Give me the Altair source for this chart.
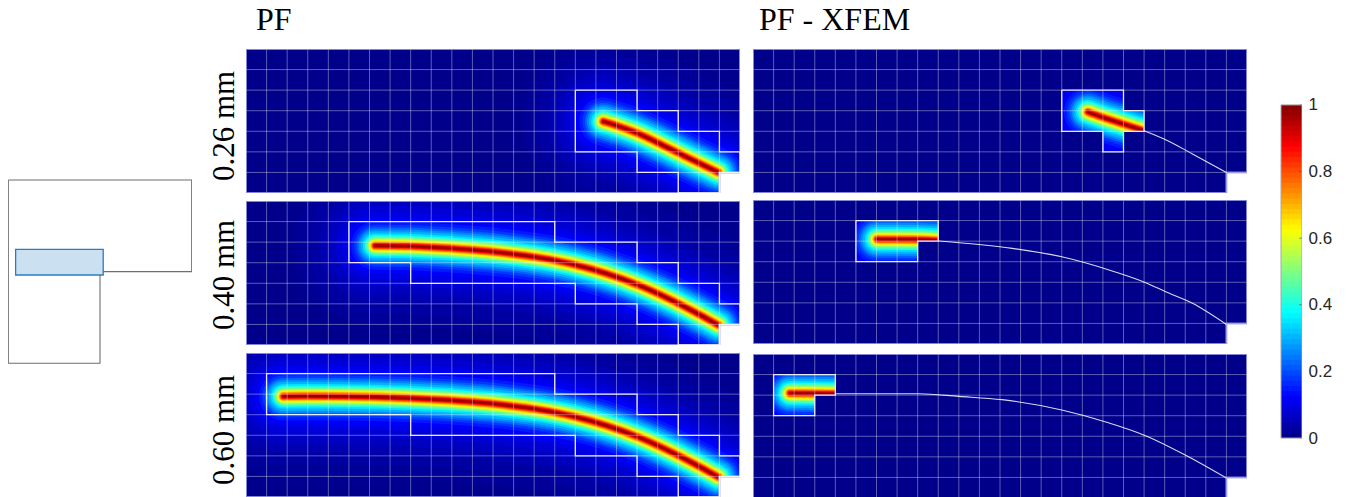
import altair as alt
import pandas as pd

NAVY = "#00008a"
SERIF = "Liberation Serif"
SANS = "Liberation Sans"

# Cell-unit coordinates (column, row); mesh is 24 x 7 cells
COLS = list(range(25))
ROWS = list(range(8))
NOTCH = [23, 24, 6, 7]
DOMAIN_X = [0, 24, 24, 23, 23, 0, 0]
DOMAIN_Y = [0, 0, 6, 6, 7, 7, 0]

# Crack paths
P1_X = [17.36, 18.0, 18.98, 20.1, 21.4, 22.95]
P1_Y = [3.52, 3.72, 4.08, 4.6, 5.25, 6.0]
P3_X = [6.27, 7.81, 9.43, 11.04, 12.66, 14.28, 15.9, 17.52, 19.14, 20.76, 22.06, 22.95]
P3_Y = [2.17, 2.19, 2.27, 2.38, 2.54, 2.76, 3.08, 3.53, 4.12, 4.86, 5.54, 6.03]
P5_X = [1.81, 3.0, 4.57, 6.27, 7.81, 9.43, 11.04, 12.66, 14.28, 15.9, 17.52, 19.14, 20.76, 22.06, 22.95]
P5_Y = [2.11, 2.10, 2.11, 2.14, 2.19, 2.27, 2.38, 2.54, 2.76, 3.08, 3.53, 4.12, 4.86, 5.54, 6.03]

P2_X = [16.27, 16.96, 17.94, 19.0]
P2_Y = [3.06, 3.31, 3.63, 3.97]
P2_THIN_X = [19.0, 20.05, 21.35, 23.0]
P2_THIN_Y = [3.97, 4.41, 5.10, 6.0]
P4_X = [6.03, 7.73, 9.03]
P4_Y = [1.91, 1.92, 1.97]
P4_THIN_X = [9.03, 10.97, 12.6, 15.0, 17.45, 19.08, 20.05, 21.35, 23.0]
P4_THIN_Y = [1.99, 2.16, 2.35, 2.76, 3.45, 4.02, 4.46, 5.02, 6.05]
P6_X = [1.79, 3.0, 4.01]
P6_Y = [1.91, 1.92, 1.93]
P6_THIN_X = [4.01, 8.04, 10.0, 12.1, 15.0, 17.1, 19.07, 21.0, 23.0]
P6_THIN_Y = [1.93, 1.93, 2.06, 2.22, 2.72, 3.29, 3.97, 4.91, 6.03]

# Refinement outlines
O1_X = [16, 19, 19, 21, 21, 23, 23, 24, 24, 23, 23, 21, 21, 19, 19, 16, 16]
O1_Y = [2, 2, 3, 3, 4, 4, 5, 5, 6, 6, 7, 7, 6, 6, 5, 5, 2]
O3_X = [5, 15, 15, 19, 19, 21, 21, 23, 23, 24, 24, 23, 23, 21, 21, 19, 19, 16, 16, 8, 8, 5, 5]
O3_Y = [1, 1, 2, 2, 3, 3, 4, 4, 5, 5, 6, 6, 7, 7, 6, 6, 5, 5, 4, 4, 3, 3, 1]
O5_X = [1, 15, 15, 19, 19, 21, 21, 23, 23, 24, 24, 23, 23, 21, 21, 19, 19, 16, 16, 8, 8, 1, 1]
O5_Y = [1, 1, 2, 2, 3, 3, 4, 4, 5, 5, 6, 6, 7, 7, 6, 6, 5, 5, 4, 4, 3, 3, 1]
O2_X = [15, 18, 18, 19, 19, 18, 18, 17, 17, 15, 15]
O2_Y = [2, 2, 3, 3, 4, 4, 5, 5, 4, 4, 2]
O4_X = [5, 9, 9, 8, 8, 5, 5]
O4_Y = [1, 1, 2, 2, 3, 3, 1]
O6_X = [1, 4, 4, 3, 3, 1, 1]
O6_Y = [1, 1, 2, 2, 3, 3, 1]

# Active cells (col, row) of the XFEM panels
A2 = [(15, 2), (16, 2), (17, 2), (15, 3), (16, 3), (17, 3), (18, 3), (17, 4)]
A4 = [(5, 1), (6, 1), (7, 1), (8, 1), (5, 2), (6, 2), (7, 2)]
A6 = [(1, 1), (2, 1), (3, 1), (1, 2), (2, 2)]

# Field level vs distance from crack (px)
LEVELS = [.01, .02, .03, .045, .06, .08, .10, .12, .15, .18, .22, .26, .30, .35, .40, .45,
          .50, .55, .60, .65, .70, .75, .80, .85, .90, .94, .98]
HALF_W = [95, 80, 68, 56, 48, 40, 33, 28, 24, 21, 18.5, 16.5, 14.5, 12.2, 10.4, 9.2,
          8, 7, 6.1, 5.2, 4.4, 3.7, 3.1, 2.5, 1.9, 1.4, .8]

# Texts
TITLE_PF = "PF"
TITLE_XFEM = "PF - XFEM"
ROW_LABELS = ["0.26 mm", "0.40 mm", "0.60 mm"]
ROW_LABEL_Y = [118, 267, 422]  # centres, measured from the top of the panel column

JET = alt.Scale(domain=[0, .125, .375, .625, .875, 1],
                range=["#000085", "#0000ff", "#00ffff", "#ffff00", "#ff0000", "#800000"],
                interpolate="rgb")

X = lambda: alt.X("x:Q", scale=alt.Scale(domain=[0, 24], nice=False, zero=False), axis=None)
Y = lambda: alt.Y("y:Q", scale=alt.Scale(domain=[7, 0], nice=False, zero=False), axis=None)


def frame(xs, ys):
    return pd.DataFrame({"x": xs, "y": ys, "i": range(len(xs))})


def panel(w, h, path, outline, active=None, thin=None):
    px, py = path
    ox, oy = outline
    layers = []
    cols = pd.DataFrame({"x": COLS})
    rows = pd.DataFrame({"y": ROWS})
    bg = pd.DataFrame({"x": [0], "x2": [24], "y": [0], "y2": [7]})
    layers.append(alt.Chart(bg).mark_rect(color=NAVY, clip=True).encode(X(), x2="x2:Q", y=Y(), y2="y2:Q"))
    df = frame(px, py)
    for lev, hw in zip(LEVELS, HALF_W):
        layers.append(
            alt.Chart(df.assign(level=lev)).mark_line(strokeWidth=2 * hw, strokeCap="round", strokeJoin="round",
                                                      clip=True, interpolate="monotone")
            .encode(X(), Y(), order="i:Q", color=alt.Color("level:Q", scale=JET, legend=None)))
    if active is not None:
        cells = [(c, r) for c in COLS[:-1] for r in ROWS[:-1] if (c, r) not in active]
        mask = pd.DataFrame({"x": [c for c, _ in cells], "x2": [c + 1 for c, _ in cells],
                             "y": [r for _, r in cells], "y2": [r + 1 for _, r in cells]})
        layers.append(alt.Chart(mask).mark_rect(color=NAVY, stroke=NAVY, strokeWidth=.5, clip=True)
                      .encode(X(), x2="x2:Q", y=Y(), y2="y2:Q"))
    layers.append(alt.Chart(cols).mark_rule(color="white", opacity=.36, strokeWidth=1, clip=True).encode(X()))
    layers.append(alt.Chart(rows).mark_rule(color="white", opacity=.36, strokeWidth=1, clip=True).encode(Y()))
    notch = pd.DataFrame({"x": [NOTCH[0]], "x2": [NOTCH[1]], "y": [NOTCH[2]], "y2": [NOTCH[3]]})
    layers.append(alt.Chart(notch).mark_rect(color="white", clip=True).encode(X(), x2="x2:Q", y=Y(), y2="y2:Q"))
    layers.append(alt.Chart(frame(DOMAIN_X, DOMAIN_Y)).mark_line(color="#9a9ae6", strokeWidth=2, opacity=.8, clip=True)
                  .encode(X(), Y(), order="i:Q"))
    if thin is not None:
        layers.append(alt.Chart(frame(*thin)).mark_line(color="white", strokeWidth=1.1, opacity=.85, interpolate="monotone", clip=True)
                      .encode(X(), Y(), order="i:Q"))
    layers.append(alt.Chart(frame(ox, oy)).mark_line(color="white", strokeWidth=1.3, opacity=.88, clip=True)
                  .encode(X(), Y(), order="i:Q"))
    return alt.layer(*layers).properties(width=w, height=h)


def title_chart(text, w, h, tx, ty):
    df = pd.DataFrame({"x": [tx], "y": [ty], "t": [text]})
    return alt.Chart(df).mark_text(font=SERIF, fontSize=32, align="left", baseline="alphabetic", color="black", clip=True).encode(
        x=alt.X("x:Q", scale=alt.Scale(domain=[0, w], nice=False, zero=False), axis=None),
        y=alt.Y("y:Q", scale=alt.Scale(domain=[h, 0], nice=False, zero=False), axis=None),
        text="t:N").properties(width=w, height=h)


p1 = panel(494, 144, (P1_X, P1_Y), (O1_X, O1_Y))
p3 = panel(494, 144, (P3_X, P3_Y), (O3_X, O3_Y))
p5 = panel(494, 144, (P5_X, P5_Y), (O5_X, O5_Y))
p2 = panel(494, 144, (P2_X, P2_Y), (O2_X, O2_Y), active=A2, thin=(P2_THIN_X, P2_THIN_Y))
p4 = panel(494, 144, (P4_X, P4_Y), (O4_X, O4_Y), active=A4, thin=(P4_THIN_X, P4_THIN_Y))
p6 = panel(494, 144, (P6_X, P6_Y), (O6_X, O6_Y), active=A6, thin=(P6_THIN_X, P6_THIN_Y))

col1 = alt.vconcat(title_chart(TITLE_PF, 494, 33, 10, 22), p1, alt.vconcat(p3, p5, spacing=8), spacing=8)
col2 = alt.vconcat(title_chart(TITLE_XFEM, 494, 34, 6, 22), p2, alt.vconcat(p4, p6, spacing=10), spacing=7)

# Row labels, in their own narrow column left of the panels
labels = alt.Chart(pd.DataFrame({"x": [29, 29, 29], "y": ROW_LABEL_Y, "t": ROW_LABELS})).mark_text(
    font=SERIF, fontSize=31, angle=270, align="center", baseline="alphabetic", color="black"
).encode(
    x=alt.X("x:Q", scale=alt.Scale(domain=[0, 35], nice=False, zero=False), axis=None),
    y=alt.Y("y:Q", scale=alt.Scale(domain=[489, 0], nice=False, zero=False), axis=None),
    text="t:N",
).properties(width=35, height=489)

# Inset: L-shaped specimen with the zoomed window
L_X = [0, 2, 2, 1, 1, 0, 0]
L_Y = [2, 2, 1, 1, 0, 0, 2]
WIN_X = [.08, 1.035]
WIN_Y = [.963, 1.243]
ix = alt.Scale(domain=[-.0033, 2.0033], nice=False, zero=False)
iy = alt.Scale(domain=[-1.458, 3.875], nice=False, zero=False)
inset = alt.layer(
    alt.Chart(frame(L_X, L_Y)).mark_line(color="#6e6e6e", strokeWidth=1.1, clip=True)
    .encode(alt.X("x:Q", scale=ix, axis=None), alt.Y("y:Q", scale=iy, axis=None), order="i:Q"),
    alt.Chart(pd.DataFrame({"x": [WIN_X[0]], "x2": [WIN_X[1]], "y": [WIN_Y[0]], "y2": [WIN_Y[1]]}))
    .mark_rect(fill="#cbe1f1", stroke="#2b7dbb", strokeWidth=1.3, clip=True)
    .encode(x=alt.X("x:Q", scale=ix, axis=None), x2="x2:Q", y=alt.Y("y:Q", scale=iy, axis=None), y2="y2:Q"),
).properties(width=184, height=489)

# Colour bar
BAR_LOW = [i / 64 for i in range(64)]
BAR_TICKS = [0, .2, .4, .6, .8, 1]
bar_df = pd.DataFrame({"lo": BAR_LOW, "hi": [min(1, v + 1 / 64 + .004) for v in BAR_LOW],
                       "mid": [v + 1 / 128 for v in BAR_LOW], "x": [0] * 64, "x2": [1] * 64})
by = alt.Scale(domain=[-.177, 1.291], nice=False, zero=False)
bx = alt.Scale(domain=[-1, 1], nice=False, zero=False)
bar_axis = alt.Axis(orient="right", values=BAR_TICKS, domain=False, ticks=False, grid=False,
                    title=None, labelFont=SANS, labelFontSize=17, labelColor="#262626",
                    labelPadding=6, labelExpr="datum.value == 0 ? '0' : datum.value == 1 ? '1' : format(datum.value, '.1f')")
cbar = alt.layer(
    alt.Chart(bar_df).mark_rect().encode(
        x=alt.X("x:Q", scale=bx, axis=None), x2="x2:Q",
        y=alt.Y("lo:Q", scale=by, axis=bar_axis),
        y2="hi:Q",
        color=alt.Color("mid:Q", scale=JET, legend=None)),
    alt.Chart(pd.DataFrame({"x": [.88] * 6, "x2": [1] * 6, "y": BAR_TICKS})).mark_rule(color="#555555", strokeWidth=.8).encode(
        x=alt.X("x:Q", scale=bx, axis=None), x2="x2:Q",
        y=alt.Y("y:Q", scale=by, axis=bar_axis)),
    alt.Chart(pd.DataFrame({"x": [0], "x2": [1], "y": [0], "y2": [1]})).mark_rect(fill=None, stroke="#a8a8a8", strokeWidth=1, clip=True).encode(
        x=alt.X("x:Q", scale=bx, axis=None), x2="x2:Q",
        y=alt.Y("y:Q", scale=by, axis=bar_axis), y2="y2:Q"),
).properties(width=42, height=489)

labelled = alt.hconcat(labels, col1, spacing=6)
chart = alt.hconcat(inset, labelled, col2, cbar, spacing=13).properties(
    padding={"left": 0, "top": 0, "right": 0, "bottom": 0}, background="white"
).configure_view(stroke=None)

chart.save("out.html", embed_options={"renderer": "svg", "actions": False})
